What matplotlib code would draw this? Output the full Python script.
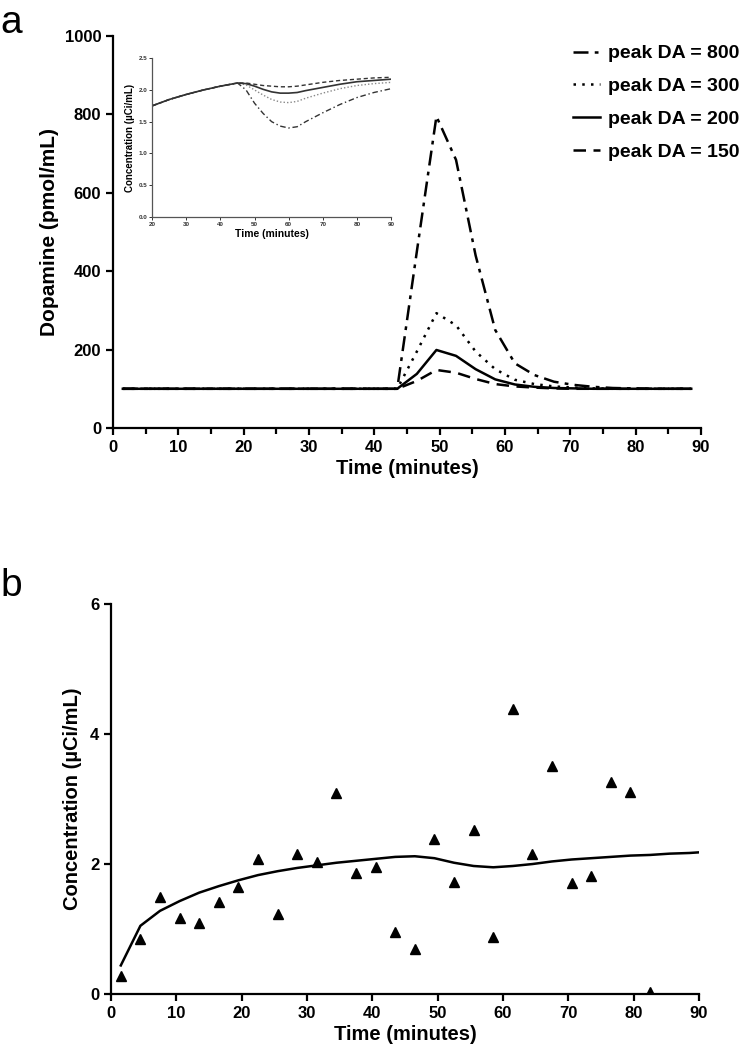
import matplotlib
matplotlib.use("Agg")
import matplotlib.pyplot as plt
from matplotlib.ticker import MultipleLocator

plt.rcParams["font.family"] = ["Liberation Sans", "DejaVu Sans"]
plt.rcParams["font.weight"] = "bold"
plt.rcParams["axes.labelweight"] = "bold"

# panel a: dopamine input curves
tiempo = [1.5, 4.5, 7.5, 10.5, 13.5, 16.5, 19.5, 22.5, 25.5, 28.5,
          31.5, 34.5, 37.5, 40.5, 43.5, 46.5, 49.5, 52.5, 55.5, 58.5,
          61.5, 64.5, 67.5, 70.5, 73.5, 76.5, 79.5, 82.5, 85.5, 88.5]
da_800 = [100, 100, 100, 100, 100, 100, 100, 100, 100, 100,
          100, 100, 100, 100, 100, 450, 795, 684, 440, 250,
          165, 135, 118, 110, 105, 102, 101, 100, 100, 100]
da_300 = [100, 100, 100, 100, 100, 100, 100, 100, 100, 100,
          100, 100, 100, 100, 100, 195, 293, 262, 195, 150,
          123, 112, 106, 103, 101, 100, 100, 100, 100, 100]
da_200 = [100, 100, 100, 100, 100, 100, 100, 100, 100, 100,
          100, 100, 100, 100, 100, 138, 199, 184, 150, 124,
          111, 105, 102, 101, 100, 100, 100, 100, 100, 100]
da_150 = [100, 100, 100, 100, 100, 100, 100, 100, 100, 100,
          100, 100, 100, 100, 100, 120, 148, 141, 125, 112,
          106, 103, 101, 100, 100, 100, 100, 100, 100, 100]
etiquetas = ["peak DA = 800", "peak DA = 300", "peak DA = 200", "peak DA = 150"]

# inset: simulated concentration
t_inset = [20, 25, 30, 35, 40, 45, 47.5, 50, 52.5, 55, 57.5, 60, 62.5, 65, 70, 75, 80, 85, 90]
c_800 = [1.75, 1.85, 1.93, 2.00, 2.06, 2.11, 2.00, 1.79, 1.63, 1.50, 1.43, 1.40, 1.42, 1.50, 1.64, 1.77, 1.88, 1.96, 2.02]
c_300 = [1.75, 1.85, 1.93, 2.00, 2.06, 2.11, 2.08, 2.00, 1.92, 1.85, 1.81, 1.80, 1.82, 1.87, 1.95, 2.02, 2.07, 2.10, 2.12]
c_200 = [1.75, 1.85, 1.93, 2.00, 2.06, 2.11, 2.10, 2.06, 2.01, 1.97, 1.95, 1.95, 1.96, 1.99, 2.04, 2.09, 2.13, 2.15, 2.17]
c_150 = [1.75, 1.85, 1.93, 2.00, 2.06, 2.11, 2.11, 2.09, 2.07, 2.06, 2.05, 2.05, 2.06, 2.08, 2.12, 2.15, 2.17, 2.19, 2.20]

# panel b: measured points and model fit
t_puntos = [1.5, 4.5, 7.5, 10.5, 13.5, 16.5, 19.5, 22.5, 25.5, 28.5,
            31.5, 34.5, 37.5, 40.5, 43.5, 46.5, 49.5, 52.5, 55.5, 58.5,
            61.5, 64.5, 67.5, 70.5, 73.5, 76.5, 79.5, 82.5]
conc_puntos = [0.28, 0.84, 1.49, 1.17, 1.10, 1.42, 1.64, 2.07, 1.23, 2.15,
               2.03, 3.09, 1.86, 1.95, 0.96, 0.70, 2.39, 1.73, 2.53, 0.87,
               4.38, 2.15, 3.51, 1.71, 1.81, 3.26, 3.11, 0.03]
t_ajuste = [1.5, 4.5, 7.5, 10.5, 13.5, 16.5, 19.5, 22.5, 25.5, 28.5,
            31.5, 34.5, 37.5, 40.5, 43.5, 46.5, 49.5, 52.5, 55.5, 58.5,
            61.5, 64.5, 67.5, 70.5, 73.5, 76.5, 79.5, 82.5, 85.5, 88.5, 90]
conc_ajuste = [0.44, 1.05, 1.28, 1.43, 1.56, 1.66, 1.75, 1.83, 1.89, 1.94,
               1.98, 2.02, 2.05, 2.08, 2.11, 2.12, 2.09, 2.02, 1.97, 1.95,
               1.97, 2.00, 2.04, 2.07, 2.09, 2.11, 2.13, 2.14, 2.16, 2.17, 2.18]

fig = plt.figure(figsize=(7.45, 10.5), dpi=100)


def estilo(ax, lw=1.6, size=12):
    ax.spines["top"].set_visible(False)
    ax.spines["right"].set_visible(False)
    ax.spines["left"].set_linewidth(lw)
    ax.spines["bottom"].set_linewidth(lw)
    ax.tick_params(direction="out", length=5, width=lw, labelsize=size)


# ---- panel a ----
ax1 = fig.add_axes([0.1517, 0.5924, 0.7893, 0.3733])
ax1.plot(tiempo, da_800, color="black", lw=1.8, linestyle=(0, (6, 2.5, 1.5, 2.5)), label=etiquetas[0])
ax1.plot(tiempo, da_300, color="black", lw=1.8, linestyle=(0, (1, 2.5)), label=etiquetas[1])
ax1.plot(tiempo, da_200, color="black", lw=1.8, linestyle="-", label=etiquetas[2])
ax1.plot(tiempo, da_150, color="black", lw=1.8, linestyle=(0, (5, 3)), label=etiquetas[3])
ax1.set_xlim(0, 90)
ax1.set_ylim(0, 1000)
ax1.xaxis.set_major_locator(MultipleLocator(10))
ax1.xaxis.set_minor_locator(MultipleLocator(5))
ax1.yaxis.set_major_locator(MultipleLocator(200))
estilo(ax1)
ax1.tick_params(which="minor", direction="out", length=4, width=1.6)
ax1.set_xlabel("Time (minutes)", fontsize=14.5, labelpad=3)
ax1.set_ylabel("Dopamine (pmol/mL)", fontsize=15, labelpad=4)
fig.legend(loc="upper left", bbox_to_anchor=(0.745, 0.974), frameon=False,
           fontsize=14, handlelength=1.4, handletextpad=0.4, labelspacing=0.78)

# inset
ax_in = fig.add_axes([0.2044, 0.7936, 0.3204, 0.1509])
ax_in.plot(t_inset, c_800, color="#333333", lw=1.0, linestyle=(0, (4, 2, 1, 2)))
ax_in.plot(t_inset, c_300, color="#888888", lw=1.0, linestyle=(0, (1, 1.5)))
ax_in.plot(t_inset, c_200, color="#333333", lw=1.2, linestyle="-")
ax_in.plot(t_inset, c_150, color="#333333", lw=1.0, linestyle=(0, (3, 2)))
ax_in.set_xlim(20, 90)
ax_in.set_ylim(0, 2.5)
ax_in.xaxis.set_major_locator(MultipleLocator(10))
ax_in.yaxis.set_major_locator(MultipleLocator(0.5))
ax_in.yaxis.set_major_formatter(plt.FormatStrFormatter("%.1f"))
for lado in ["top", "right"]:
    ax_in.spines[lado].set_visible(False)
for lado in ["left", "bottom"]:
    ax_in.spines[lado].set_linewidth(0.9)
    ax_in.spines[lado].set_color("#555555")
ax_in.tick_params(direction="out", length=2, width=0.7, labelsize=4.5, colors="#333333", pad=1.5)
ax_in.set_xlabel("Time (minutes)", fontsize=7.5, labelpad=2)
ax_in.set_ylabel("Concentration (\u00b5Ci/mL)", fontsize=7, labelpad=3)

# ---- panel b ----
ax2 = fig.add_axes([0.149, 0.0533, 0.7893, 0.3714])
ax2.plot(t_ajuste, conc_ajuste, color="black", lw=1.8)
ax2.plot(t_puntos, conc_puntos, linestyle="none", marker="^", markersize=7, color="black")
ax2.set_xlim(0, 90)
ax2.set_ylim(0, 6)
ax2.xaxis.set_major_locator(MultipleLocator(10))
ax2.yaxis.set_major_locator(MultipleLocator(2))
estilo(ax2)
ax2.set_xlabel("Time (minutes)", fontsize=14.5, labelpad=3)
ax2.set_ylabel("Concentration (\u00b5Ci/mL)", fontsize=14.5, labelpad=6)

fig.text(0.0, 0.978, "a", fontsize=28, fontweight="normal", va="center", ha="left")
fig.text(0.0, 0.442, "b", fontsize=28, fontweight="normal", va="center", ha="left")

fig.savefig("out.png", dpi=100)
